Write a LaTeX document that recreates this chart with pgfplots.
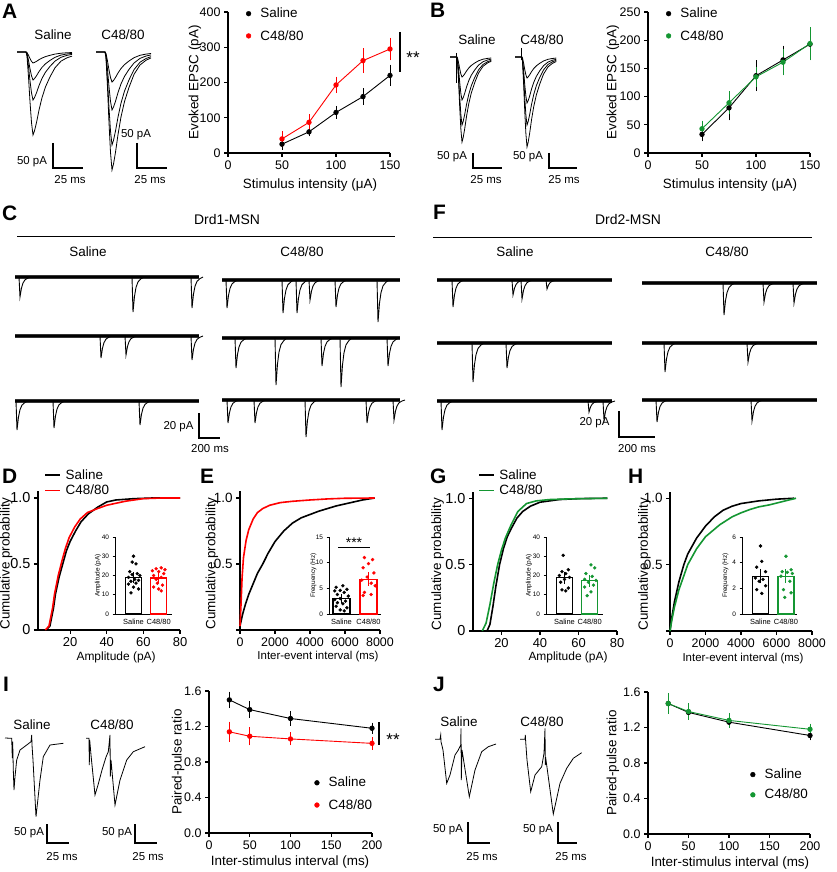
\documentclass[border=0pt]{standalone}
\usepackage{pgfplots}
\pgfplotsset{compat=1.18}
\usepackage{pgfplotstable}
\usepackage{fontspec}
\setmainfont{Liberation Sans}
\newcommand\fs[1]{\fontsize{#1}{#1}\selectfont}
\definecolor{cred}{RGB}{255,0,0}
\definecolor{cgreen}{RGB}{20,150,50}

% evoked EPSC shape (t in px from peak, f = fraction of peak)
\pgfplotstableread{
t f
-16 0
-7 0
-6 0.05
-4.5 0.3
-3 0.6
-1.5 0.85
0 1
1.5 0.95
3.5 0.85
6 0.7
9 0.55
12.5 0.42
17 0.3
22 0.19
28 0.11
34 0.07
39 0.05
}\epsc

% spontaneous event shape
\pgfplotstableread{
t f
-1 0
0 1
1.5 0.55
3 0.3
5 0.14
8 0.05
11 0
}\mini

\newcommand\ev[3]{\addplot[black, line width=0.9bp] table[x expr=#1+\thisrow{t}, y expr=#2+#3*\thisrow{f}] {\mini};}
\newcommand\band[3]{\addplot[black!80, line width=4.5bp] coordinates {(#1,#3) (#2,#3)};
  \addplot[black, line width=2bp] coordinates {(#1,#3) (#2,#3)};}
\newcommand\trace[4]{\addplot[black, line width=0.8bp] table[x expr=#1+#4*\thisrow{t}, y expr=#2+#3*\thisrow{f}] {\epsc};}

\pgfplotsset{
  base/.style={scale only axis, axis lines=left, axis line style={-, line width=1.1bp},
    tick style={line width=1.1bp, black}, tick align=outside, major tick length=4bp,
    tick label style={font=\fs{12.5}}, /pgf/number format/assume math mode=true,
    /pgf/number format/1000 sep={}, scaled ticks=false, clip=false,
    legend style={draw=none, fill=none, font=\fs{13.5}, inner sep=0pt,
      nodes={inner sep=1.5bp}, row sep=4bp, legend cell align=left}},
  lab/.style n args={4}{every axis x label/.style={at={(axis description cs:#1,#2)}, anchor=center, font=\fs{13.5}},
    every axis y label/.style={at={(axis description cs:#3,#4)}, rotate=90, anchor=center, font=\fs{13.5}}},
  pt/.style={mark=*, mark size=2.2bp, line width=0.9bp,
    error bars/y dir=both, error bars/y explicit, error bars/error bar style={line width=0.9bp},
    error bars/error mark options={mark size=3bp, line width=0.9bp}},
  dot/.style={legend image code/.code={\fill[#1] (0,0) circle (2.4bp); \path (10bp,0);}},
  cum/.style={no marks, line width=1.6bp},
  inset/.style={scale only axis, axis lines=left, axis line style={-, line width=0.8bp},
    ytick style={line width=0.8bp, black}, tick align=outside, major tick length=2.5bp,
    xtick={1,2}, xticklabels={Saline,C48/80}, xtick style={draw=none},
    x tick label style={font=\fs{7.5}, yshift=1bp}, y tick label style={font=\fs{6.5}},
    /pgf/number format/assume math mode=true, height=77bp, ymin=0, clip=false,
    every axis y label/.style={at={(axis description cs:-0.3,0.5)}, rotate=90, anchor=center, font=\fs{6.5}}},
  bar/.style={ybar, bar width=0.63, bar shift=0pt, fill=white, line width=1.1bp},
  sem/.style={only marks, mark=-, mark size=4bp, line width=1bp,
    error bars/y dir=both, error bars/y explicit, error bars/error bar style={line width=1bp},
    error bars/error mark options={mark size=3bp, line width=1bp}},
  sc/.style={only marks, mark=*, mark size=1.5bp},
}

\begin{document}
\begin{tikzpicture}
% ---------- overlay: traces, scale bars, texts ----------
\begin{axis}[at={(0,0)}, anchor=south west, scale only axis, width=837bp, height=872bp,
  xmin=0, xmax=837, ymin=0, ymax=872, y dir=reverse, hide axis, clip=false]
% panel letters
\node[anchor=north west, inner sep=0, font=\fs{21}\bfseries] at (2,4) {A};
\node[anchor=north west, inner sep=0, font=\fs{21}\bfseries] at (430,3) {B};
\node[anchor=north west, inner sep=0, font=\fs{21}\bfseries] at (2,206) {C};
\node[anchor=north west, inner sep=0, font=\fs{21}\bfseries] at (433,205) {F};
\node[anchor=north west, inner sep=0, font=\fs{21}\bfseries] at (2,469) {D};
\node[anchor=north west, inner sep=0, font=\fs{21}\bfseries] at (200,469) {E};
\node[anchor=north west, inner sep=0, font=\fs{21}\bfseries] at (430,469) {G};
\node[anchor=north west, inner sep=0, font=\fs{21}\bfseries] at (628,469) {H};
\node[anchor=north west, inner sep=0, font=\fs{21}\bfseries] at (3,677) {I};
\node[anchor=north west, inner sep=0, font=\fs{21}\bfseries] at (433,677) {J};

% A traces
\node[font=\fs{13.5}] at (53,35) {Saline};
\node[font=\fs{13.5}] at (123,35) {C48/80};
\trace{33}{52}{11}{1}
\trace{33}{52}{28}{1}
\trace{33}{52}{48}{1}
\trace{33}{52}{83}{1}
\trace{112}{52}{30}{1}
\trace{112}{52}{58}{1}
\trace{112}{52}{93}{1}
\trace{112}{52}{118}{1}
\draw[line width=1.1bp] (53,143) -- (53,168) -- (83,168);
\draw[line width=1.1bp] (137,143) -- (137,168) -- (167,168);
\node[font=\fs{11.5}] at (32,162) {50 pA};
\node[font=\fs{11.5}] at (70,180) {25 ms};
\node[font=\fs{11.5}] at (136,135) {50 pA};
\node[font=\fs{11.5}] at (150,180) {25 ms};
\draw[line width=1.1bp] (400,32) -- (400,72);
\node[font=\fs{17}] at (413,58) {**};

% B traces
\node[font=\fs{13.5}] at (477,40) {Saline};
\node[font=\fs{13.5}] at (542,40) {C48/80};
\trace{462}{57}{20}{0.75}
\trace{462}{57}{43}{0.75}
\trace{462}{57}{68}{0.75}
\trace{462}{57}{85}{0.75}
\addplot[black, line width=0.8bp] coordinates {(456,53) (456,83)};
\trace{527}{57}{21}{0.75}
\trace{527}{57}{46}{0.75}
\trace{527}{57}{68}{0.75}
\trace{527}{57}{90}{0.75}
\addplot[black, line width=0.8bp] coordinates {(521,48) (521,60)};
\draw[line width=1.1bp] (473,153) -- (473,168) -- (502,168);
\draw[line width=1.1bp] (549,153) -- (549,168) -- (577,168);
\node[font=\fs{11.5}] at (452,157) {50 pA};
\node[font=\fs{11.5}] at (486,180) {25 ms};
\node[font=\fs{11.5}] at (528,157) {50 pA};
\node[font=\fs{11.5}] at (564,180) {25 ms};

% C: Drd1-MSN
\node[font=\fs{14}] at (227,220) {Drd1-MSN};
\draw[line width=1bp] (17,236) -- (395,236);
\node[font=\fs{13.5}] at (88,252) {Saline};
\node[font=\fs{13.5}] at (302,252) {C48/80};
\band{15}{199}{277} \ev{20}{277}{20} \ev{133}{277}{35} \ev{192}{277}{31}
\band{15}{199}{336} \ev{101}{336}{22} \ev{126}{336}{19} \ev{192}{336}{24}
\band{15}{199}{401} \ev{17}{401}{29} \ev{54}{401}{27} \ev{140}{401}{24}
\band{222}{400}{280} \ev{227}{280}{28} \ev{283}{280}{33} \ev{297}{280}{33} \ev{310}{280}{20} \ev{336}{280}{27} \ev{378}{280}{42}
\band{222}{400}{338} \ev{236}{338}{30} \ev{276}{338}{47} \ev{322}{338}{28} \ev{341}{338}{49} \ev{388}{338}{28}
\band{222}{400}{400} \ev{228}{400}{23} \ev{255}{400}{23} \ev{306}{400}{37} \ev{367}{400}{23} \ev{394}{400}{20}
\draw[line width=1.1bp] (199,413) -- (199,438) -- (220,438);
\node[font=\fs{11.5}, anchor=east] at (197,427) {20 pA};
\node[font=\fs{11.5}] at (210,449) {200 ms};

% F: Drd2-MSN
\node[font=\fs{14}] at (628,220) {Drd2-MSN};
\draw[line width=1bp] (433,237) -- (812,237);
\node[font=\fs{13.5}] at (515,252) {Saline};
\node[font=\fs{13.5}] at (727,252) {C48/80};
\band{437}{612}{280} \ev{453}{280}{27} \ev{513}{280}{15} \ev{522}{280}{19} \ev{547}{280}{9}
\band{437}{612}{343} \ev{473}{343}{39} \ev{507}{343}{25}
\band{437}{612}{401} \ev{442}{401}{29} \ev{589}{401}{11} \ev{604}{401}{19}
\band{642}{817}{283} \ev{724}{283}{32} \ev{764}{283}{19} \ev{794}{283}{20}
\band{642}{817}{343} \ev{665}{343}{29} \ev{748}{343}{19}
\band{642}{817}{400} \ev{657}{400}{22} \ev{752}{400}{21}
\draw[line width=1.1bp] (619,411) -- (619,437) -- (655,437);
\node[font=\fs{11.5}, anchor=east] at (613,423) {20 pA};
\node[font=\fs{11.5}] at (637,449) {200 ms};

% E inset significance
\draw[line width=1bp] (338,547) -- (370,547);
\node[font=\fs{14}] at (354,543) {***};

% I traces
\node[font=\fs{13.5}] at (32,725) {Saline};
\node[font=\fs{13.5}] at (112,725) {C48/80};
\addplot[black, line width=0.8bp] coordinates {(5,738) (11.7,738.3) (12.3,758) (12.7,741.7) (13.3,770) (14,790) (15,776.7) (16.7,760) (20,750) (26.7,745) (31,741.7) (31.7,735) (32,745) (33,760) (36,816.7) (40,780) (43.3,756.7) (50,745) (63.3,743.3)};
\addplot[black, line width=0.8bp] coordinates {(86,738.3) (89,738.3) (89.3,765) (89.7,740) (91,755) (95,795) (98,785) (102,770) (106,757) (108.3,751.7) (110,735) (110.3,776.7) (111,760) (115,805) (120,780) (126.7,760) (133.3,751.7) (145,746.7)};
\draw[line width=1.1bp] (47,824) -- (47,843) -- (69,843);
\draw[line width=1.1bp] (135,824) -- (135,843) -- (157,843);
\node[font=\fs{11.5}] at (29,833) {50 pA};
\node[font=\fs{11.5}] at (62,857) {25 ms};
\node[font=\fs{11.5}] at (117,833) {50 pA};
\node[font=\fs{11.5}] at (148,857) {25 ms};
\draw[line width=1.1bp] (379,722) -- (379,745);
\node[font=\fs{17}] at (393,740) {**};

% J traces
\node[font=\fs{13.5}] at (459,722) {Saline};
\node[font=\fs{13.5}] at (542,722) {C48/80};
\addplot[black, line width=0.8bp] coordinates {(435,739.3) (440,739.3) (440.7,735) (441,741.7) (443,750) (446.7,783.3) (450,775) (455,755) (458.3,750) (460.7,745) (461,728.3) (461.3,780) (462,750) (469.3,796.7) (475,770) (481.7,751.7) (488.3,746.7) (496,744)};
\addplot[black, line width=0.8bp] coordinates {(520,739.3) (525,739.3) (525.3,735) (525.7,742) (527,760) (530.7,791.7) (535,775) (541.7,766.7) (544,753.3) (545,728.3) (545.3,765) (546,760) (553.3,814) (560,783.3) (566.7,768.3) (573.3,758.3) (581.7,752.7)};
\draw[line width=1.1bp] (468,822) -- (468,843) -- (490,843);
\draw[line width=1.1bp] (558,822) -- (558,843) -- (577,843);
\node[font=\fs{11.5}] at (448,830) {50 pA};
\node[font=\fs{11.5}] at (482,857) {25 ms};
\node[font=\fs{11.5}] at (538,830) {50 pA};
\node[font=\fs{11.5}] at (571,857) {25 ms};
\end{axis}

% ---------- A ----------
\begin{axis}[base, at={(228bp,719bp)}, anchor=south west, width=162bp, height=141bp,
  xmin=0, xmax=150, ymin=0, ymax=400, xtick={0,50,100,150}, ytick={0,100,...,400},
  xlabel={Stimulus intensity (μA)}, ylabel={Evoked EPSC  (pA)}, lab={0.506}{-0.227}{-0.204}{0.5},
  legend style={at={(axis description cs:0.11,1.04)}, anchor=north west, row sep=8bp}]
\addlegendimage{dot=black}\addlegendentry{Saline}
\addlegendimage{dot=cred}\addlegendentry{C48/80}
\addplot[black, pt, forget plot] coordinates {(50,25)+-(0,7) (75,60)+-(0,4) (100,115)+-(0,10) (125,160)+-(0,15) (150,220)+-(0,22)};
\addplot[cred, pt, forget plot] coordinates {(50,40)+-(0,14) (75,87)+-(0,14) (100,193)+-(0,15) (125,262)+-(0,27) (150,295)+-(0,24)};
\end{axis}

% ---------- B ----------
\begin{axis}[base, at={(648bp,719bp)}, anchor=south west, width=162bp, height=141bp,
  xmin=0, xmax=150, ymin=0, ymax=250, xtick={0,50,100,150}, ytick={0,50,...,250},
  xlabel={Stimulus intensity (μA)}, ylabel={Evoked EPSC  (pA)}, lab={0.506}{-0.227}{-0.216}{0.5},
  legend style={at={(axis description cs:0.11,1.04)}, anchor=north west, row sep=8bp}]
\addlegendimage{dot=black}\addlegendentry{Saline}
\addlegendimage{dot=cgreen}\addlegendentry{C48/80}
\addplot[black, pt, forget plot] coordinates {(50,33)+-(0,7) (75,80)+-(0,17) (100,137)+-(0,22) (125,165)+-(0,20) (150,193)+-(0,23)};
\addplot[cgreen, pt, forget plot] coordinates {(50,43)+-(0,9) (75,89)+-(0,15) (100,135)+-(0,13) (125,161)+-(0,18) (150,194)+-(0,24)};
\end{axis}

% ---------- D ----------
\begin{axis}[base, at={(38bp,242bp)}, anchor=south west, width=142bp, height=138.6bp,
  xmin=2.5, xmax=80, ymin=0, ymax=1.05, xtick={20,40,60,80}, ytick={0,0.5,1}, yticklabels={0,0.5,1.0},
  y tick label style={font=\fs{14.5}}, x tick label style={font=\fs{13}},
  xlabel={Amplitude (pA)}, ylabel={Cumulative probability}, lab={0.55}{-0.195}{-0.225}{0.48},
  xlabel style={font=\fs{12}},
  legend style={at={(axis description cs:0.045,1.17)}, anchor=north west, row sep=1bp},
  legend image code/.code={\draw[#1] (0,0) -- (15bp,0); \path (18bp,0);}]
\addplot[black, cum] coordinates {(7,0) (9,0.03) (11,0.17) (12,0.27) (14,0.4) (16,0.5) (18,0.6) (20,0.67) (23,0.75) (26,0.82) (30,0.88) (35,0.93) (40,0.97) (45,0.985) (55,0.995) (65,1) (80,1)};
\addlegendentry{Saline}
\addplot[cred, cum] coordinates {(6.5,0) (8.5,0.03) (10.5,0.17) (11.5,0.27) (13.5,0.41) (15.5,0.52) (17.5,0.62) (19.5,0.7) (22.5,0.78) (25.5,0.84) (29.5,0.89) (35,0.92) (40,0.945) (45,0.96) (50,0.975) (55,0.985) (60,0.995) (70,1) (80,1)};
\addlegendentry{C48/80}
\end{axis}

% ---------- E ----------
\begin{axis}[base, at={(240bp,242bp)}, anchor=south west, width=140bp, height=138.6bp,
  xmin=0, xmax=8000, ymin=0, ymax=1.05, xtick={0,2000,...,8000}, ytick={0,0.5,1}, yticklabels={,0.5,1.0},
  y tick label style={font=\fs{13.5}},
  xlabel={Inter-event interval (ms)}, ylabel={Cumulative probability}, lab={0.557}{-0.195}{-0.2}{0.48},
  xlabel style={font=\fs{11.5}}]
\addplot[black, cum] coordinates {(0,0.03) (150,0.12) (300,0.19) (500,0.27) (750,0.35) (1000,0.43) (1300,0.5) (1600,0.58) (2000,0.67) (2500,0.75) (3000,0.81) (3500,0.85) (4000,0.875) (4500,0.9) (5000,0.92) (5500,0.94) (6000,0.955) (6500,0.97) (7000,0.985) (7700,1)};
\addplot[cred, cum] coordinates {(0,0.03) (60,0.2) (120,0.4) (200,0.55) (350,0.68) (500,0.76) (750,0.84) (1000,0.89) (1300,0.92) (1700,0.945) (2300,0.965) (3000,0.975) (4000,0.985) (5000,0.993) (6000,0.998) (7700,1)};
\end{axis}

% ---------- G ----------
\begin{axis}[base, at={(473bp,241bp)}, anchor=south west, width=144bp, height=139.4bp,
  xmin=5.2, xmax=80, ymin=0, ymax=1.05, xtick={20,40,60,80}, ytick={0,0.5,1}, yticklabels={0,0.5,1.0},
  y tick label style={font=\fs{14.5}}, x tick label style={font=\fs{13}},
  xlabel={Amplitude (pA)}, ylabel={Cumulative probability}, lab={0.66}{-0.19}{-0.245}{0.48},
  xlabel style={font=\fs{12}},
  legend style={at={(axis description cs:0.035,1.17)}, anchor=north west, row sep=1bp},
  legend image code/.code={\draw[#1] (0,0) -- (15bp,0); \path (18bp,0);}]
\addplot[black, cum] coordinates {(12.5,0) (14,0.05) (15.5,0.18) (17,0.33) (19,0.5) (21,0.62) (23,0.71) (25,0.77) (28,0.85) (31,0.9) (35,0.94) (40,0.97) (45,0.98) (50,0.99) (60,0.997) (75,1)};
\addlegendentry{Saline}
\addplot[cgreen, cum] coordinates {(10,0) (12,0.06) (14,0.2) (16,0.36) (18,0.5) (20,0.61) (22,0.7) (25,0.8) (28.5,0.9) (33,0.96) (38,0.98) (45,0.99) (55,0.995) (75,1)};
\addlegendentry{C48/80}
\end{axis}

% ---------- H ----------
\begin{axis}[base, at={(670bp,241bp)}, anchor=south west, width=142bp, height=139.4bp,
  xmin=0, xmax=8000, ymin=0, ymax=1.05, xtick={0,2000,...,8000}, ytick={0,0.5,1}, yticklabels={,0.5,1.0},
  y tick label style={font=\fs{13.5}},
  xlabel={Inter-event interval (ms)}, ylabel={Cumulative probability}, lab={0.514}{-0.194}{-0.18}{0.48},
  xlabel style={font=\fs{11.5}}]
\addplot[black, cum] coordinates {(0,0) (100,0.1) (250,0.22) (500,0.37) (780,0.5) (1000,0.58) (1500,0.7) (2000,0.79) (2500,0.86) (3000,0.91) (3500,0.94) (4000,0.96) (5000,0.98) (6000,0.993) (7000,1)};
\addplot[cgreen, cum] coordinates {(0,0) (100,0.08) (250,0.18) (500,0.31) (1000,0.5) (1500,0.62) (2000,0.71) (2800,0.8) (3500,0.86) (4000,0.89) (4500,0.915) (5000,0.935) (5600,0.95) (6200,0.97) (7100,1)};
\end{axis}

% ---------- insets ----------
\begin{axis}[inset, at={(115bp,258bp)}, anchor=south west, width=57bp, xmin=0.266, xmax=2.528,
  ymax=40, ytick={0,10,...,40}, ylabel={Amplitude (pA)}]
\addplot[bar, draw=black] coordinates {(1,18.8)};
\addplot[bar, draw=cred] coordinates {(2,18.7)};
\addplot[black, sc] coordinates {(1.0,30) (0.95,27) (1.1,26) (0.85,22) (1.15,21) (0.95,20.5) (1.25,20) (0.8,19) (1.05,18) (1.2,17.5) (0.9,17) (1.1,16) (0.8,15.5) (1.0,14) (1.2,13) (0.9,11)};
\addplot[cred, sc] coordinates {(2.1,24) (1.9,23.5) (2.25,23) (1.75,22.5) (2.0,22) (2.2,21) (1.8,20) (2.1,19) (1.9,18) (1.95,16) (2.15,15) (1.8,14) (2.0,13) (2.1,12)};
\addplot[black, sem] coordinates {(1,18.8)+-(0,1.3)};
\addplot[cred, sem] coordinates {(2,18.7)+-(0,1.2)};
\end{axis}

\begin{axis}[inset, at={(329bp,258bp)}, anchor=south west, width=52bp, xmin=0.537, xmax=2.463,
  ymax=15, ytick={0,5,10,15}, ylabel={Frequency (Hz)}]
\addplot[bar, draw=black] coordinates {(1,3.0)};
\addplot[bar, draw=cred] coordinates {(2,6.8)};
\addplot[black, sc] coordinates {(1.05,5.5) (0.8,5.2) (1.2,4.8) (0.95,4.6) (0.75,4.5) (1.1,4.2) (0.85,3.8) (1.25,3.5) (0.95,3.0) (0.75,2.8) (1.15,2.5) (0.85,2.2) (1.05,2.0) (0.8,1.5) (1.2,1.2) (0.95,0.8) (1.1,0.6)};
\addplot[cred, sc] coordinates {(1.85,11) (2.15,10.6) (2.0,9.8) (1.8,9) (2.2,8) (1.95,7.2) (1.75,6.6) (2.1,6) (2.25,5.5) (1.85,4.2) (2.1,3.8) (1.8,3.6)};
\addplot[black, sem] coordinates {(1,3.0)+-(0,0.35)};
\addplot[cred, sem] coordinates {(2,6.8)+-(0,0.7)};
\end{axis}

\begin{axis}[inset, at={(546bp,258bp)}, anchor=south west, width=57bp, xmin=0.266, xmax=2.528,
  ymax=40, ytick={0,10,...,40}, ylabel={Amplitude (pA)}]
\addplot[bar, draw=black] coordinates {(1,18.9)};
\addplot[bar, draw=cgreen] coordinates {(2,17.2)};
\addplot[black, sc] coordinates {(0.95,30.5) (1.15,23) (0.9,22) (1.05,21) (0.8,20) (1.2,19) (1.0,18) (0.85,16.5) (1.15,13.5) (0.9,12.5) (1.05,12)};
\addplot[cgreen, sc] coordinates {(2.05,25.5) (2.2,24) (1.85,21) (2.1,19.5) (1.8,18) (2.25,17.5) (1.95,16.5) (2.15,15) (1.8,14) (2.05,11.5) (1.9,9.5)};
\addplot[black, sem] coordinates {(1,18.9)+-(0,1.5)};
\addplot[cgreen, sem] coordinates {(2,17.2)+-(0,1.4)};
\end{axis}

\begin{axis}[inset, at={(742bp,258bp)}, anchor=south west, width=55bp, xmin=0.275, xmax=2.432,
  ymax=6, ytick={0,2,4,6}, ylabel={Frequency (Hz)}]
\addplot[bar, draw=black] coordinates {(1,2.95)};
\addplot[bar, draw=cgreen] coordinates {(2,2.95)};
\addplot[black, sc] coordinates {(1.0,5.3) (1.05,4.1) (0.85,3.65) (1.2,3.3) (0.8,2.8) (1.1,2.7) (0.95,2.55) (1.2,2.2) (0.85,1.9) (1.05,1.6)};
\addplot[cgreen, sc] coordinates {(2.0,4.5) (2.2,3.45) (1.85,3.3) (2.05,3.25) (2.25,3.15) (1.8,2.95) (2.15,2.55) (1.9,1.9) (2.2,1.65) (1.95,1.3)};
\addplot[black, sem] coordinates {(1,2.95)+-(0,0.33)};
\addplot[cgreen, sem] coordinates {(2,2.95)+-(0,0.3)};
\end{axis}

% ---------- I ----------
\begin{axis}[base, at={(209bp,39bp)}, anchor=south west, width=163bp, height=142bp,
  xmin=0, xmax=200, ymin=0, ymax=1.6, xtick={0,50,...,200}, ytick={0,0.4,...,1.6},
  yticklabel style={/pgf/number format/.cd, fixed, fixed zerofill, precision=1},
  xlabel={Inter-stimulus interval (ms)}, ylabel={Paired-pulse ratio}, lab={0.497}{-0.204}{-0.19}{0.5},
  legend style={at={(axis description cs:0.645,0.405)}, anchor=north west, row sep=8bp}]
\addlegendimage{dot=black}\addlegendentry{Saline}
\addlegendimage{dot=cred}\addlegendentry{C48/80}
\addplot[black, pt, forget plot] coordinates {(25,1.50)+-(0,0.06) (50,1.39)+-(0,0.06) (100,1.29)+-(0,0.05) (200,1.18)+-(0,0.03)};
\addplot[cred, pt, forget plot] coordinates {(25,1.14)+-(0,0.08) (50,1.09)+-(0,0.07) (100,1.06)+-(0,0.04) (200,1.01)+-(0,0.04)};
\end{axis}

% ---------- J ----------
\begin{axis}[base, at={(648bp,38bp)}, anchor=south west, width=162bp, height=142bp,
  xmin=0, xmax=200, ymin=0, ymax=1.6, xtick={0,50,...,200}, ytick={0,0.4,...,1.6},
  yticklabel style={/pgf/number format/.cd, fixed, fixed zerofill, precision=1},
  xlabel={Inter-stimulus interval (ms)}, ylabel={Paired-pulse ratio}, lab={0.506}{-0.204}{-0.216}{0.5},
  legend style={at={(axis description cs:0.63,0.47)}, anchor=north west, row sep=6bp}]
\addlegendimage{dot=black}\addlegendentry{Saline}
\addlegendimage{dot=cgreen}\addlegendentry{C48/80}
\addplot[black, pt, forget plot] coordinates {(25,1.47)+-(0,0.05) (50,1.37)+-(0,0.04) (100,1.26)+-(0,0.03) (200,1.11)+-(0,0.02)};
\addplot[cgreen, pt, forget plot] coordinates {(25,1.47)+-(0,0.08) (50,1.38)+-(0,0.06) (100,1.28)+-(0,0.05) (200,1.18)+-(0,0.03)};
\end{axis}

\pgfresetboundingbox
\path (0,0) rectangle (837bp,872bp);
\end{tikzpicture}
\end{document}
